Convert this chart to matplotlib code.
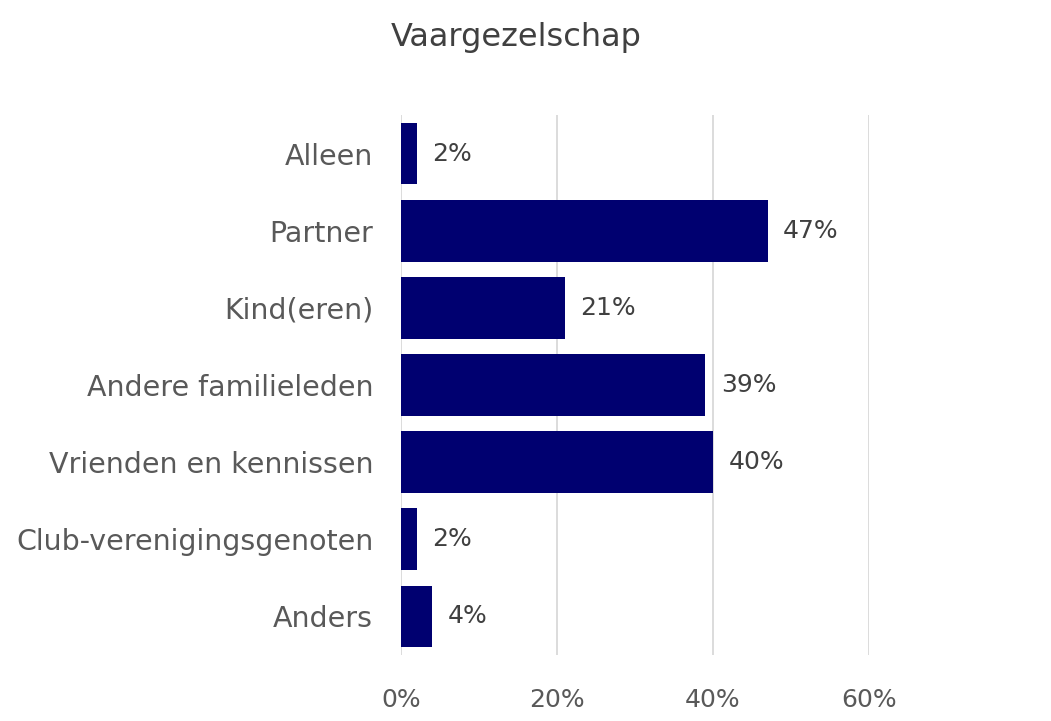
import matplotlib.pyplot as plt
from matplotlib.ticker import FuncFormatter

categories = ['Alleen', 'Partner', 'Kind(eren)', 'Andere familieleden',
              'Vrienden en kennissen', 'Club-verenigingsgenoten', 'Anders']
values = [2, 47, 21, 39, 40, 2, 4]
xticks = [0, 20, 40, 60]

plt.rcParams['font.family'] = ['DejaVu Sans']

fig = plt.figure(figsize=(10.51, 7.21), dpi=100)
ax = fig.add_axes([0.3815, 0.0915, 0.4453, 0.749])

pos = list(range(len(categories)))
ax.barh(pos, values, height=0.8, color='#000070', zorder=3)
for p, v in zip(pos, values):
    ax.text(v + 2.0, p, f'{v}%', va='center', ha='left',
            fontsize=18, color='#404040')

ax.set_ylim(len(categories) - 0.5, -0.5)
ax.set_xlim(0, 60)
ax.set_yticks(pos)
ax.set_yticklabels(categories, fontsize=20.5, color='#595959')
ax.set_xticks(xticks)
ax.xaxis.set_major_formatter(FuncFormatter(lambda x, _: f'{x:.0f}%'))
ax.tick_params(axis='x', labelsize=18, labelcolor='#595959', length=0, pad=24)
ax.tick_params(axis='y', length=0, pad=20)
ax.grid(axis='x', color='#d9d9d9', linewidth=1.3, zorder=0)
for s in ax.spines.values():
    s.set_visible(False)

fig.text(0.491, 0.948, 'Vaargezelschap', ha='center', va='center',
         fontsize=23, color='#404040')

fig.savefig('out.png', dpi=100)
